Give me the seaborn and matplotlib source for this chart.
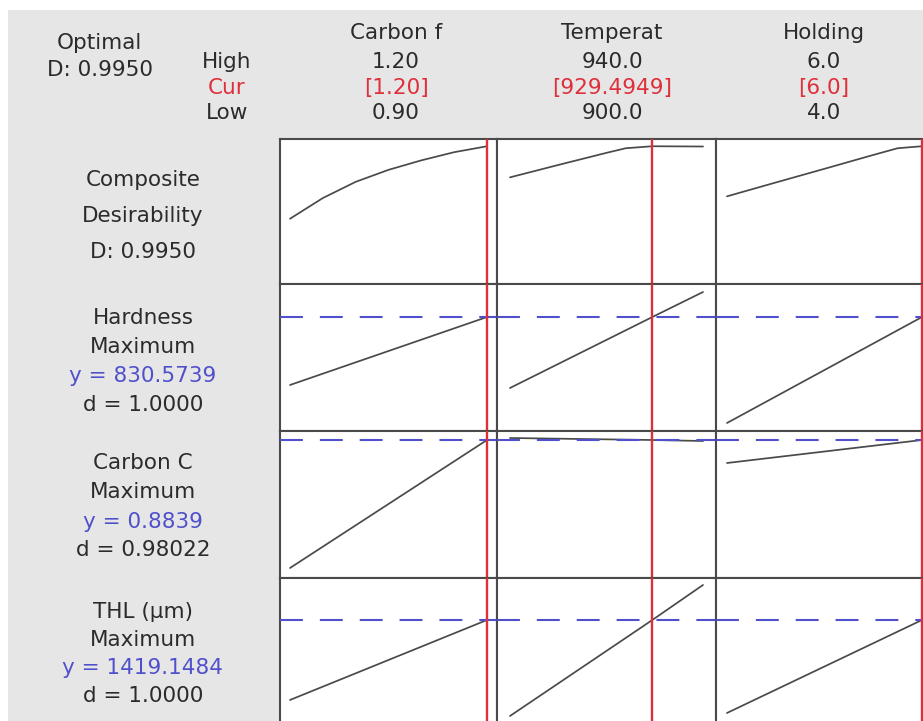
import numpy as np
import pandas as pd
import seaborn as sns
import matplotlib
matplotlib.use("Agg")
import matplotlib.pyplot as plt
from matplotlib.patches import Rectangle

sns.set_style("white")
plt.rcParams["font.family"] = ["DejaVu Sans"]

# ---- factor settings -------------------------------------------------------
factor_names = ["Carbon f", "Temperat", "Holding"]
factor_high = ["1.20", "940.0", "6.0"]
factor_cur_text = ["[1.20]", "[929.4949]", "[6.0]"]
factor_low = ["0.90", "900.0", "4.0"]
factor_lo_val = [0.90, 900.0, 4.0]
factor_hi_val = [1.20, 940.0, 6.0]
factor_cur = [1.20, 929.4949, 6.0]

# ---- responses -------------------------------------------------------------
composite_D = "0.9950"
response_names = ["Hardness", "Carbon C", "THL (µm)"]
response_goal = ["Maximum", "Maximum", "Maximum"]
response_pred = [830.5739, 0.8839, 1419.1484]
response_pred_text = ["830.5739", "0.8839", "1419.1484"]
response_d = ["1.0000", "0.98022", "1.0000"]

# ---- composite desirability profiles ---------------------------------------
D_carbon_x = [0.90, 0.95, 1.00, 1.05, 1.10, 1.15, 1.20]
D_carbon_y = [0.445, 0.602, 0.725, 0.816, 0.888, 0.950, 0.995]
D_temp_x = [900.0, 910.0, 920.0, 924.0, 929.4949, 935.0, 940.0]
D_temp_y = [0.759, 0.853, 0.945, 0.980, 0.995, 0.994, 0.993]
D_hold_x = [4.0, 4.5, 5.0, 5.5, 5.75, 6.0]
D_hold_y = [0.615, 0.720, 0.824, 0.929, 0.980, 0.995]

# ---- response profiles -----------------------------------------------------
hard_carbon_x = [0.90, 1.20]
hard_carbon_y = [762.6, 830.5739]
hard_temp_x = [900.0, 929.4949, 940.0]
hard_temp_y = [759.6, 830.5739, 855.6]
hard_hold_x = [4.0, 6.0]
hard_hold_y = [724.6, 830.5739]

cc_carbon_x = [0.90, 1.20]
cc_carbon_y = [0.6919, 0.8839]
cc_temp_x = [900.0, 929.4949, 940.0]
cc_temp_y = [0.8869, 0.8839, 0.8824]
cc_hold_x = [4.0, 6.0]
cc_hold_y = [0.8494, 0.8839]

thl_carbon_x = [0.90, 1.20]
thl_carbon_y = [1259.2, 1419.1484]
thl_temp_x = [900.0, 929.4949, 940.0]
thl_temp_y = [1227.2, 1419.1484, 1489.2]
thl_hold_x = [4.0, 6.0]
thl_hold_y = [1233.2, 1419.1484]

profiles = [
    [(D_carbon_x, D_carbon_y), (D_temp_x, D_temp_y), (D_hold_x, D_hold_y)],
    [(hard_carbon_x, hard_carbon_y), (hard_temp_x, hard_temp_y), (hard_hold_x, hard_hold_y)],
    [(cc_carbon_x, cc_carbon_y), (cc_temp_x, cc_temp_y), (cc_hold_x, cc_hold_y)],
    [(thl_carbon_x, thl_carbon_y), (thl_temp_x, thl_temp_y), (thl_hold_x, thl_hold_y)],
]
row_ylim = [(-0.05, 1.05), (716.6, 863.6), (0.6769, 0.8974), (1209.15, 1503.15)]
ref_lines = [None] + response_pred

# ---- layout (pixels) -------------------------------------------------------
W, H = 923, 721
col_left = [280, 497, 716]
col_width = [217, 219, 218]
col_pad = [(10, 10), (13, 13), (11, 12)]
row_top = [139, 284, 431, 578]
row_height = [145, 147, 147, 147]

GREY_BG = "#e6e6e6"
INK = "#2b2b2b"
RED = "#de2f3a"
BLUE = "#5050cc"
CURVE = "#4a4a4a"
FRAME = "#4a4a4a"

fig = plt.figure(figsize=(W / 100, H / 100), dpi=100)
fig.patch.set_facecolor("white")
fig.add_artist(Rectangle((8 / W, 0), 1 - 8 / W, 1 - 10 / H,
                         transform=fig.transFigure, facecolor=GREY_BG,
                         edgecolor="none", zorder=0))


def px(x, y):
    return x / W, 1 - y / H


for r in range(4):
    for c in range(3):
        l, w = col_left[c], col_width[c]
        t, h = row_top[r], row_height[r]
        ax = fig.add_axes([l / W, (H - t - h) / H, w / W, h / H])
        ax.set_facecolor("white")
        lo, hi = factor_lo_val[c], factor_hi_val[c]
        data_px = (w - col_pad[c][0] - col_pad[c][1])
        scale = (hi - lo) / data_px
        ax.set_xlim(lo - col_pad[c][0] * scale, hi + col_pad[c][1] * scale)
        ax.set_ylim(*row_ylim[r])
        xs, ys = profiles[r][c]
        df = pd.DataFrame({"x": xs, "y": ys})
        sns.lineplot(data=df, x="x", y="y", ax=ax, color=CURVE, lw=1.25,
                     estimator=None, sort=False, legend=False)
        if ref_lines[r] is not None:
            ax.axhline(ref_lines[r], color=BLUE, lw=1.5,
                       dashes=(16.5 / 1.5, 12.2 / 1.5), zorder=3)
        ax.axvline(factor_cur[c], color=RED, lw=1.7, zorder=4)
        ax.set_xticks([])
        ax.set_yticks([])
        ax.set_xlabel("")
        ax.set_ylabel("")
        for s in ax.spines.values():
            s.set_visible(True)
            s.set_color(FRAME)
            s.set_linewidth(1.5)

FS = 15.5
# header block
fig.text(*px(99, 43), "Optimal", ha="center", va="center", fontsize=FS, color=INK)
fig.text(*px(100, 70), "D: " + composite_D, ha="center", va="center", fontsize=FS, color=INK)
fig.text(*px(227, 62), "High", ha="center", va="center", fontsize=FS, color=INK)
fig.text(*px(227, 88), "Cur", ha="center", va="center", fontsize=FS, color=RED)
fig.text(*px(227, 113), "Low", ha="center", va="center", fontsize=FS, color=INK)

col_center = [396, 612, 824]
for c in range(3):
    x = col_center[c]
    fig.text(*px(x, 33), factor_names[c], ha="center", va="center", fontsize=FS, color=INK)
    fig.text(*px(x, 62), factor_high[c], ha="center", va="center", fontsize=FS, color=INK)
    fig.text(*px(x, 88), factor_cur_text[c], ha="center", va="center", fontsize=FS, color=RED)
    fig.text(*px(x, 113), factor_low[c], ha="center", va="center", fontsize=FS, color=INK)

# row labels
LX = 143
for y, s in zip([180, 216, 252], ["Composite", "Desirability", "D: " + composite_D]):
    fig.text(*px(LX, y), s, ha="center", va="center", fontsize=FS, color=INK)

label_rows = [[318, 347, 376, 405], [463, 492, 522, 550], [612, 640, 668, 696]]
for i in range(3):
    ys = label_rows[i]
    fig.text(*px(LX, ys[0]), response_names[i], ha="center", va="center", fontsize=FS, color=INK)
    fig.text(*px(LX, ys[1]), response_goal[i], ha="center", va="center", fontsize=FS, color=INK)
    fig.text(*px(LX, ys[2]), "y = " + response_pred_text[i], ha="center", va="center", fontsize=FS, color=BLUE)
    fig.text(*px(LX, ys[3]), "d = " + response_d[i], ha="center", va="center", fontsize=FS, color=INK)

fig.savefig("out.png", dpi=100, facecolor=fig.get_facecolor())
